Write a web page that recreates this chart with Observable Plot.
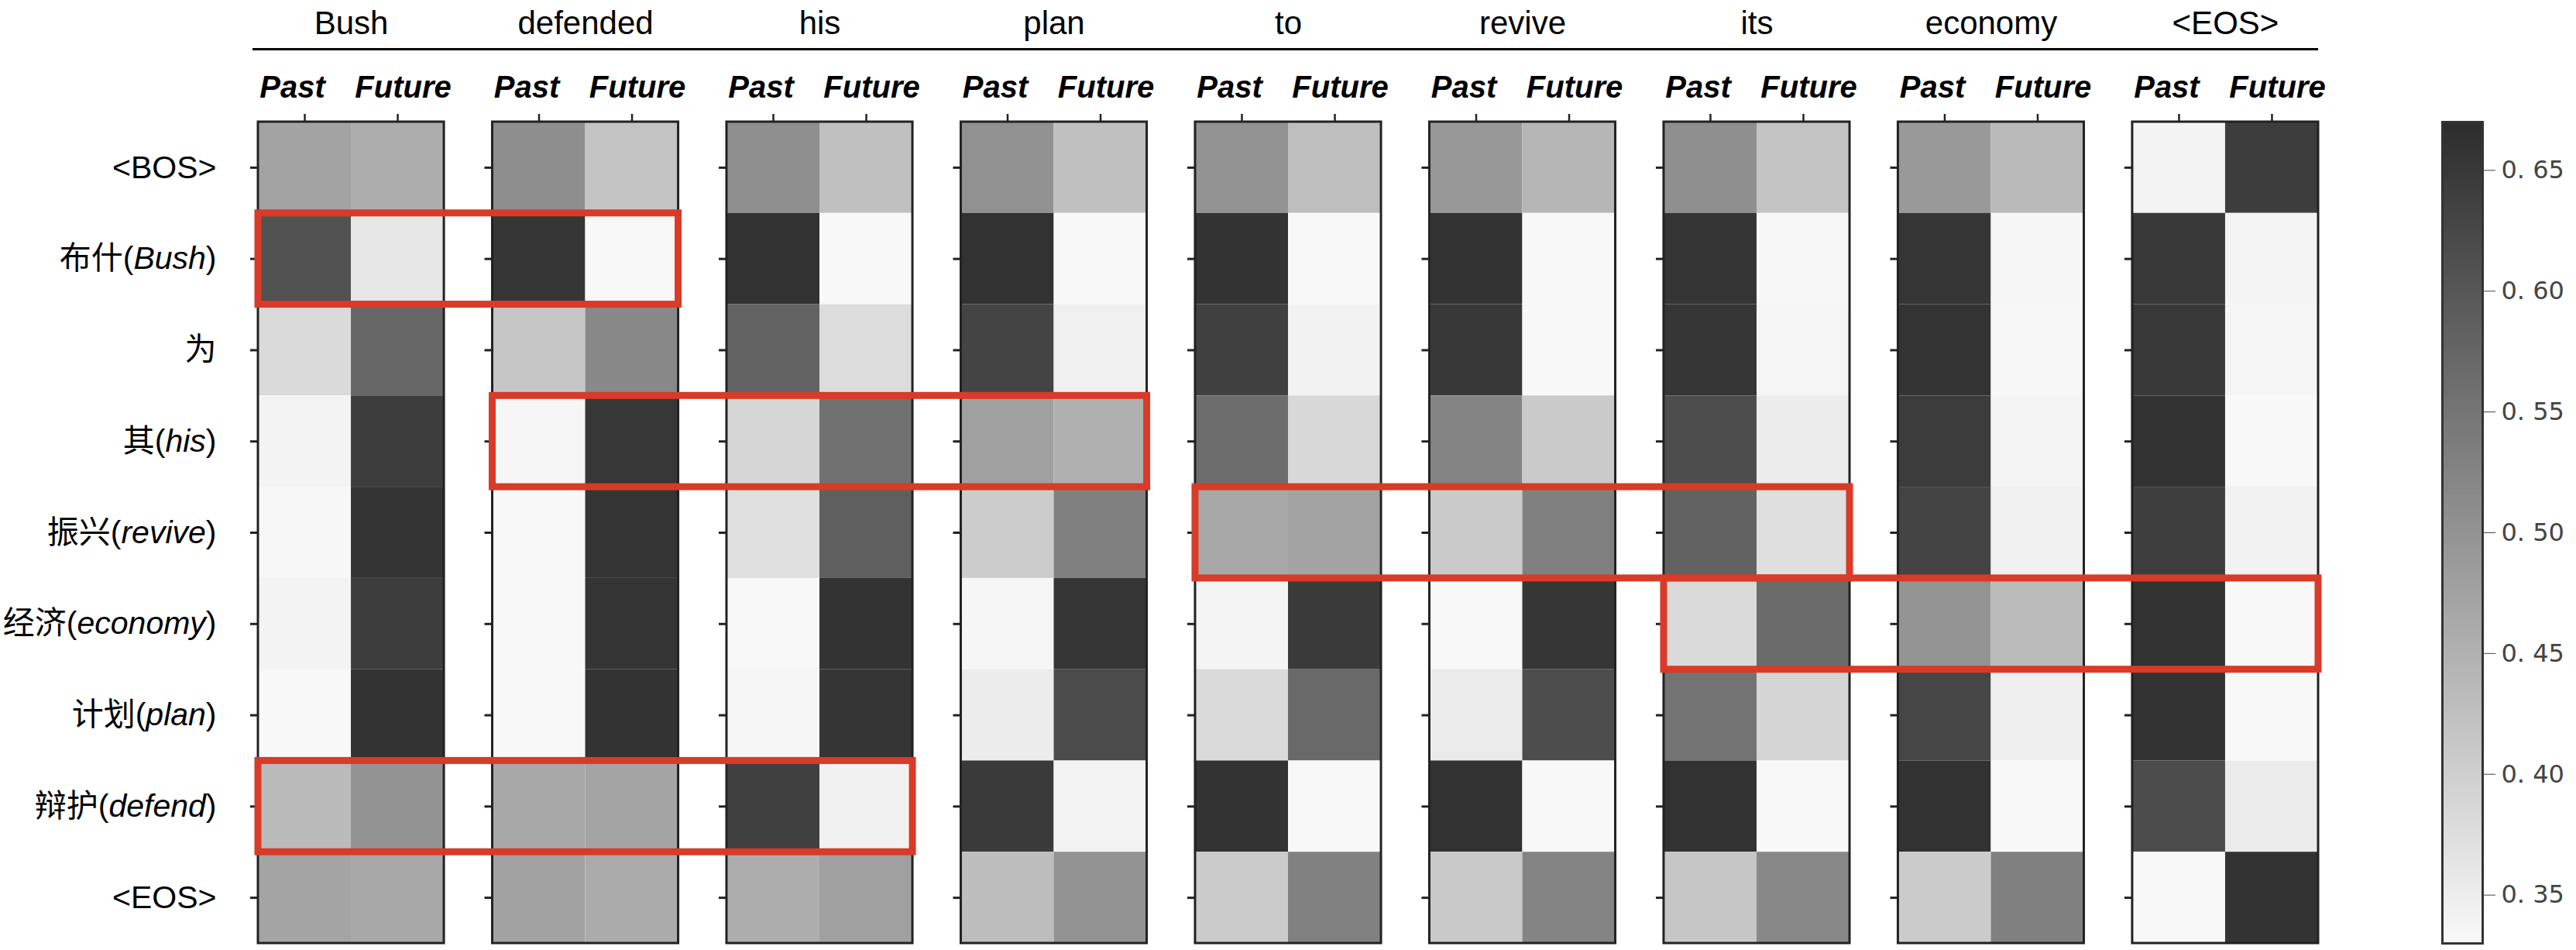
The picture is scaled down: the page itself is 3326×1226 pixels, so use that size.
<!DOCTYPE html>
<html>
<head>
<meta charset="utf-8">
<script src="https://cdn.jsdelivr.net/npm/d3@7"></script>
<script src="https://cdn.jsdelivr.net/npm/@observablehq/plot@0.6"></script>
<style>
  html, body { margin: 0; padding: 0; background: #ffffff; }
  #chart { display: flex; flex-direction: row; width: 3326px; height: 1226px; }
  #chart svg { display: block; overflow: visible; }
  tspan.gloss { font-style: italic; }
</style>
</head>
<body>
<div id="chart"></div>
<script>
// ---------------- DATA ----------------
const targetWords = ["Bush", "defended", "his", "plan", "to", "revive", "its", "economy", "<EOS>"];
const sourceRows = ["<BOS>", "布什(Bush)", "为", "其(his)", "振兴(revive)", "经济(economy)", "计划(plan)", "辩护(defend)", "<EOS>"];
const directions = ["Past", "Future"];

// one array per target word, one value per source row (top to bottom)
const pastValues = [
  [0.472, 0.607, 0.380, 0.338, 0.332, 0.338, 0.330, 0.433, 0.470], // Bush
  [0.507, 0.653, 0.413, 0.333, 0.330, 0.330, 0.330, 0.463, 0.473], // defended
  [0.505, 0.660, 0.578, 0.387, 0.370, 0.330, 0.333, 0.637, 0.455], // his
  [0.502, 0.660, 0.630, 0.477, 0.403, 0.333, 0.350, 0.647, 0.428], // plan
  [0.498, 0.658, 0.637, 0.562, 0.463, 0.337, 0.380, 0.658, 0.405], // to
  [0.490, 0.658, 0.650, 0.523, 0.407, 0.330, 0.352, 0.660, 0.408], // revive
  [0.505, 0.655, 0.653, 0.615, 0.580, 0.380, 0.552, 0.660, 0.413], // its
  [0.488, 0.653, 0.657, 0.643, 0.630, 0.497, 0.627, 0.660, 0.405], // economy
  [0.338, 0.648, 0.648, 0.658, 0.640, 0.658, 0.658, 0.617, 0.330]  // <EOS>
];
const futureValues = [
  [0.455, 0.360, 0.572, 0.642, 0.657, 0.642, 0.658, 0.498, 0.463], // Bush
  [0.418, 0.330, 0.517, 0.652, 0.655, 0.655, 0.658, 0.470, 0.458], // defended
  [0.423, 0.330, 0.377, 0.555, 0.585, 0.658, 0.655, 0.342, 0.477], // his
  [0.423, 0.330, 0.343, 0.450, 0.530, 0.653, 0.618, 0.338, 0.498], // plan
  [0.427, 0.330, 0.340, 0.383, 0.472, 0.647, 0.568, 0.330, 0.528], // to
  [0.440, 0.330, 0.330, 0.407, 0.530, 0.653, 0.615, 0.330, 0.523], // revive
  [0.418, 0.332, 0.335, 0.350, 0.372, 0.565, 0.388, 0.330, 0.517], // its
  [0.435, 0.333, 0.332, 0.337, 0.343, 0.432, 0.345, 0.330, 0.530], // economy
  [0.642, 0.337, 0.335, 0.330, 0.340, 0.330, 0.330, 0.352, 0.658]  // <EOS>
];

// highlighted (red) boxes: source row, first and last target word covered
const highlightRows = ["布什(Bush)", "其(his)", "振兴(revive)", "经济(economy)", "辩护(defend)"];
const highlightFrom = ["Bush", "defended", "to", "its", "Bush"];
const highlightTo   = ["defended", "plan", "its", "<EOS>", "his"];

const colorbarTicks = [0.35, 0.40, 0.45, 0.50, 0.55, 0.60, 0.65];
const colorDomain = [0.33, 0.67];

// ---------------- LAYOUT ----------------
const H = 1226;
const MAIN_W = 3060;
const ML = 333, MR = 67, MT = 157, MB = 9;
const STEP = 2.52;                       // panel stride, in cell widths
const xMax = (targetWords.length - 1) * STEP + 2;
const cellPx = (MAIN_W - ML - MR) / xMax;
const rowPx = (H - MT - MB) / sourceRows.length;
const TICK = 10;
const FONT = '"Liberation Sans", Arial, Helvetica, "Noto Sans CJK SC", sans-serif';

// ---------------- TABLES ----------------
const cells = [];
targetWords.forEach((w, wi) => {
  sourceRows.forEach((r, ri) => {
    directions.forEach((dir, di) => {
      const v = (di === 0 ? pastValues : futureValues)[wi][ri];
      cells.push({word: w, row: r, dir, wi, ri, di, value: v});
    });
  });
});
const panels = targetWords.map((w, wi) => ({word: w, wi}));
const rowTicks = [];
panels.forEach(p => sourceRows.forEach((r, ri) => rowTicks.push({wi: p.wi, ri})));
const colTicks = [];
panels.forEach(p => directions.forEach((d, di) => colTicks.push({wi: p.wi, di, dir: d})));
const boxes = highlightRows.map((r, i) => ({
  ri: sourceRows.indexOf(r),
  from: targetWords.indexOf(highlightFrom[i]),
  to: targetWords.indexOf(highlightTo[i])
}));

const colorScale = {type: "linear", domain: colorDomain, range: ["#f8f8f8", "#2c2c2c"], clamp: true};

// ---------------- MAIN PLOT ----------------
const main = Plot.plot({
  width: MAIN_W,
  height: H,
  marginLeft: ML, marginRight: MR, marginTop: MT, marginBottom: MB,
  style: {fontFamily: FONT, background: "#ffffff", overflow: "visible"},
  x: {domain: [0, xMax], axis: null},
  y: {domain: [0, sourceRows.length], reverse: true, axis: null},
  color: colorScale,
  marks: [
    Plot.rect(cells, {
      x1: d => d.wi * STEP + d.di, x2: d => d.wi * STEP + d.di + 1,
      y1: d => d.ri, y2: d => d.ri + 1,
      fill: "value"
    }),
    Plot.rect(panels, {
      x1: d => d.wi * STEP, x2: d => d.wi * STEP + 2,
      y1: 0, y2: sourceRows.length,
      fill: "none", stroke: "#222", strokeWidth: 3
    }),
    Plot.ruleY(rowTicks, {
      y: d => d.ri + 0.5,
      x1: d => d.wi * STEP - TICK / cellPx, x2: d => d.wi * STEP,
      stroke: "#222", strokeWidth: 3
    }),
    Plot.ruleX(colTicks, {
      x: d => d.wi * STEP + d.di + 0.5,
      y1: 0, y2: -TICK / rowPx,
      stroke: "#222", strokeWidth: 2.5
    }),
    // header underline
    Plot.ruleY([-(MT - 63) / rowPx], {
      x1: -7 / cellPx, x2: xMax, stroke: "#000", strokeWidth: 3
    }),
    // target words
    Plot.text(panels, {
      x: d => d.wi * STEP + 1, text: "word",
      frameAnchor: "top", dy: -(MT - 43), lineAnchor: "bottom",
      fontSize: 42, fill: "#000"
    }),
    // Past / Future labels
    Plot.text(colTicks.filter(d => d.di === 0), {
      x: d => d.wi * STEP + d.di + 0.5, text: "dir",
      frameAnchor: "top", dy: -32, dx: -16, lineAnchor: "bottom",
      fontSize: 40, fontWeight: "bold", fontStyle: "italic", fill: "#000"
    }),
    Plot.text(colTicks.filter(d => d.di === 1), {
      x: d => d.wi * STEP + d.di + 0.5, text: "dir",
      frameAnchor: "top", dy: -32, dx: 7, lineAnchor: "bottom",
      fontSize: 40, fontWeight: "bold", fontStyle: "italic", fill: "#000"
    }),
    // source row labels
    Plot.text(sourceRows, {
      y: (d, i) => i + 0.5, text: d => d,
      frameAnchor: "left", dx: -(ML - 279), textAnchor: "end", lineAnchor: "middle",
      fontSize: 41, fill: "#000"
    }),
    // red highlight boxes
    Plot.rect(boxes, {
      x1: d => d.from * STEP, x2: d => d.to * STEP + 2,
      y1: d => d.ri, y2: d => d.ri + 1,
      fill: "none", stroke: "#d83b27", strokeWidth: 9
    })
  ]
});

// italicise the English gloss inside row labels
const SVGNS = "http://www.w3.org/2000/svg";
main.querySelectorAll("text").forEach(node => {
  const s = node.textContent;
  if (!sourceRows.includes(s)) return;
  const m = s.match(/^(.*?\()(.+)(\))$/);
  if (!m) return;
  while (node.firstChild) node.removeChild(node.firstChild);
  [[m[1], false], [m[2], true], [m[3], false]].forEach(([t, it]) => {
    const ts = document.createElementNS(SVGNS, "tspan");
    if (it) {
      ts.setAttribute("class", "gloss");
      ts.setAttribute("font-style", "italic");
      ts.style.fontStyle = "italic";
    }
    ts.textContent = t;
    node.appendChild(ts);
  });
});

// ---------------- COLORBAR ----------------
const CB_W = 3326 - MAIN_W;
const CB_LEFT = 3153 - MAIN_W;
const CB_BAR = 52;
const gradStep = 0.002;
const gradient = d3.range(colorDomain[0], colorDomain[1], gradStep);

const colorbar = Plot.plot({
  width: CB_W,
  height: H,
  marginLeft: CB_LEFT, marginRight: CB_W - CB_LEFT - CB_BAR, marginTop: MT, marginBottom: MB,
  style: {fontFamily: '"DejaVu Sans", sans-serif', background: "#ffffff", overflow: "visible"},
  x: {domain: [0, 1], axis: null},
  y: {domain: colorDomain},
  color: colorScale,
  marks: [
    Plot.rect(gradient, {
      x1: 0, x2: 1, y1: d => d, y2: d => Math.min(d + gradStep * 1.3, colorDomain[1]),
      fill: d => d
    }),
    Plot.frame({stroke: "#333", strokeWidth: 3}),
    Plot.axisY({
      anchor: "right", ticks: colorbarTicks, tickSize: 16, tickPadding: 8,
      tickFormat: d => "0. " + String(Math.round(d * 100)),
      fontSize: 32, color: "#444", label: null
    })
  ]
});

const root = document.getElementById("chart");
root.appendChild(main);
root.appendChild(colorbar);
</script>
</body>
</html>
